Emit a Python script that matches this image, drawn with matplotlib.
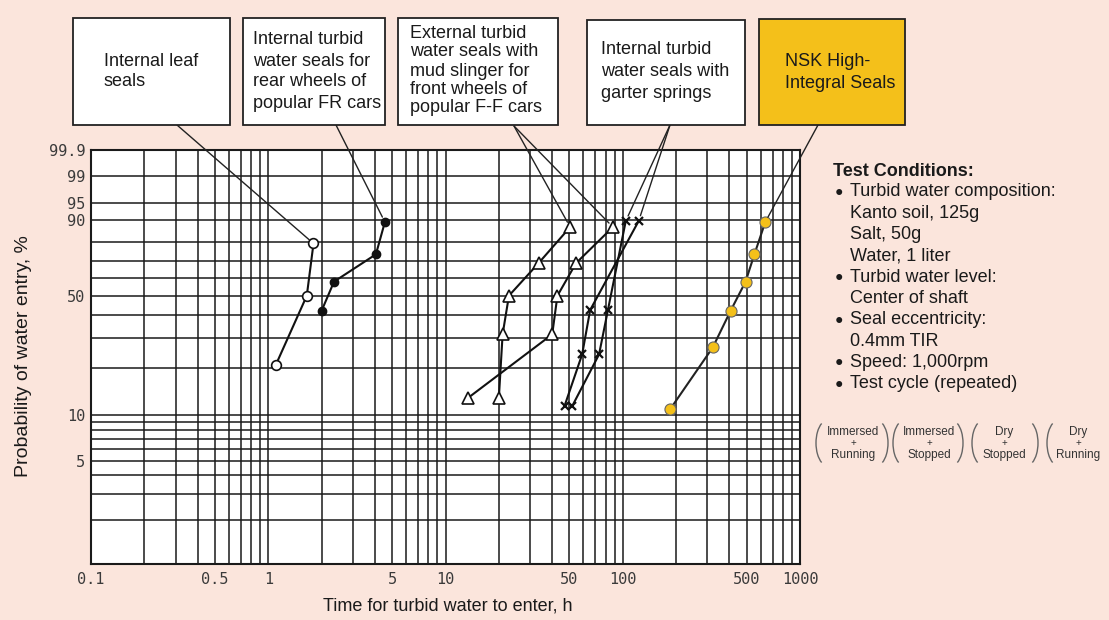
import numpy as np
import matplotlib
matplotlib.use("Agg")
import matplotlib.pyplot as plt
from matplotlib.patches import Rectangle, Arc
from matplotlib.ticker import NullLocator

W, H = 1109, 620
BG = "#fbe5dc"
YELLOW = "#f4c01a"

# ---------- data (time h, cumulative probability %) ----------
leaf_t = [1.1, 1.65, 1.8]
leaf_p = [20.6, 50.0, 79.4]

fr_t = [2.0, 2.35, 4.05, 4.55]
fr_p = [42.1, 57.9, 73.6, 89.1]

ff_a_t = [20.0, 21.0, 22.8, 33.5, 50.5]
ff_b_t = [13.4, 40.0, 42.8, 54.5, 88.0]
ff_p = [12.9, 31.4, 50.0, 68.6, 87.1]

garter_c_t = [47.0, 59.0, 65.5, 123.0]
garter_d_t = [52.0, 73.5, 82.5, 104.0]
garter_p = [11.5, 24.0, 42.5, 89.5]

nsk_t = [185, 322, 406, 493, 553, 637]
nsk_p = [10.9, 26.4, 42.1, 57.9, 73.6, 89.1]

xtick_vals = [0.1, 0.5, 1, 5, 10, 50, 100, 500, 1000]
xtick_labels = ["0.1", "0.5", "1", "5", "10", "50", "100", "500", "1000"]
ytick_vals = [5, 10, 50, 90, 95, 99, 99.9]
ytick_labels = ["5", "10", "50", "90", "95", "99", "99.9"]

xgrid = [k * 10.0 ** e for e in range(-1, 3) for k in range(1, 10)] + [1000]
ygrid = list(range(1, 11)) + [20, 30, 40, 50, 60, 70, 80, 90, 95, 99, 99.9]


def fwd(p):
    p = np.clip(np.asarray(p, dtype=float), 1e-6, 100 - 1e-9)
    return np.log(-np.log(1 - p / 100.0))


def inv(w):
    return 100.0 * (1 - np.exp(-np.exp(np.asarray(w, dtype=float))))


def fp(x, y):
    # pixel position (from top-left) -> figure fraction
    return (x / W, 1 - y / H)


plt.rcParams["font.family"] = ["Liberation Sans", "DejaVu Sans"]

fig = plt.figure(figsize=(W / 100, H / 100), dpi=100, facecolor=BG)
ax = fig.add_axes([91 / W, 1 - 564 / H, 709 / W, 414 / H])
ax.set_facecolor("white")
ax.set_xscale("log")
ax.set_yscale("function", functions=(fwd, inv))
ax.set_xlim(0.1, 1000)
ax.set_ylim(1, 99.9)

ax.vlines(xgrid, 1, 99.9, color="#1a1a1a", lw=1.1, zorder=1)
ax.hlines(ygrid, 0.1, 1000, color="#1a1a1a", lw=1.1, zorder=1)

for s in ax.spines.values():
    s.set_linewidth(1.5)
    s.set_color("#1a1a1a")

ax.xaxis.set_minor_locator(NullLocator())
ax.yaxis.set_minor_locator(NullLocator())
ax.set_xticks(xtick_vals)
ax.set_xticklabels(xtick_labels)
ax.set_yticks(ytick_vals)
ax.set_yticklabels(ytick_labels)
ax.tick_params(length=0, labelsize=11, labelcolor="#3a3a3a")
ax.tick_params(axis="x", pad=6)
ax.tick_params(axis="y", pad=4)
for lab in ax.get_xticklabels() + ax.get_yticklabels():
    lab.set_family("DejaVu Sans Mono")

lw = 1.5
ax.plot(leaf_t, leaf_p, color="#111", lw=lw, marker="o", ms=7,
        mfc="white", mec="#111", mew=1.2, zorder=3)
ax.plot(fr_t, fr_p, color="#111", lw=lw, marker="o", ms=6,
        mfc="#111", mec="#111", zorder=3)
for t in (ff_a_t, ff_b_t):
    ax.plot(t, ff_p, color="#111", lw=lw, marker="^", ms=8,
            mfc="white", mec="#111", mew=1.2, zorder=3)
for t in (garter_c_t, garter_d_t):
    ax.plot(t, garter_p, color="#111", lw=lw, marker="x", ms=6,
            mec="#111", mew=1.6, zorder=3)
ax.plot(nsk_t, nsk_p, color="#222", lw=lw, marker="o", ms=8,
        mfc=YELLOW, mec="#666", mew=0.8, zorder=3)

fig.text(*fp(448, 606), "Time for turbid water to enter, h", fontsize=13,
         ha="center", va="center", color="#1a1a1a")
fig.text(*fp(24, 356), "Probability of water entry, %", fontsize=14,
         ha="center", va="center", rotation=90, color="#1a1a1a")

# ---------- label boxes ----------
boxes = [
    (73, 18, 230, 125, "white", 104, [61, 82], ["Internal leaf", "seals"]),
    (243, 18, 385, 125, "white", 253, [39, 61, 82, 103],
     ["Internal turbid", "water seals for", "rear wheels of", "popular FR cars"]),
    (398, 18, 558, 125, "white", 410, [33, 52, 71, 89, 107],
     ["External turbid", "water seals with", "mud slinger for",
      "front wheels of", "popular F-F cars"]),
    (587, 20, 745, 125, "white", 601, [49, 71, 93],
     ["Internal turbid", "water seals with", "garter springs"]),
    (759, 19, 905, 125, YELLOW, 785, [62, 83], ["NSK High-", "Integral Seals"]),
]
for x0, y0, x1, y1, fc, tx, tys, lines in boxes:
    fig.add_artist(Rectangle(fp(x0, y1), (x1 - x0) / W, (y1 - y0) / H,
                             transform=fig.transFigure, facecolor=fc,
                             edgecolor="#222", lw=1.3))
    for ty, line in zip(tys, lines):
        fig.text(*fp(tx, ty), line, fontsize=13, va="center", ha="left",
                 color="#1a1a1a")

# ---------- leader lines ----------
leaders = [
    ((177, 125), (leaf_t[-1], leaf_p[-1])),
    ((336, 125), (fr_t[-1], fr_p[-1])),
    ((514, 126), (ff_a_t[-1], ff_p[-1])),
    ((514, 126), (ff_b_t[-1], ff_p[-1])),
    ((670, 125), (garter_c_t[-1], garter_p[-1])),
    ((670, 125), (garter_d_t[-1], garter_p[-1])),
    ((818, 125), (nsk_t[-1], nsk_p[-1])),
]
for (px, py), xy in leaders:
    ax.annotate("", xy=xy, xytext=fp(px, py), textcoords="figure fraction",
                annotation_clip=False,
                arrowprops=dict(arrowstyle="-", color="#222", lw=1.0,
                                shrinkA=0, shrinkB=4))

# ---------- test conditions ----------
fig.text(*fp(833, 171), "Test Conditions:", fontsize=13, fontweight="bold",
         va="center", color="#1a1a1a")
cond = [
    (True, "Turbid water composition:"),
    (False, "Kanto soil, 125g"),
    (False, "Salt, 50g"),
    (False, "Water, 1 liter"),
    (True, "Turbid water level:"),
    (False, "Center of shaft"),
    (True, "Seal eccentricity:"),
    (False, "0.4mm TIR"),
    (True, "Speed: 1,000rpm"),
    (True, "Test cycle (repeated)"),
]
for i, (bullet, line) in enumerate(cond):
    y = 192 + i * 21.3
    if bullet:
        fig.text(*fp(835, y), "\u25CF", fontsize=10, va="center", color="#1a1a1a")
    fig.text(*fp(850, y), line, fontsize=13, va="center", color="#1a1a1a")

cycle_top = ["Immersed", "Immersed", "Dry", "Dry"]
cycle_bot = ["Running", "Stopped", "Stopped", "Running"]
cycle_x = [853, 929, 1004, 1078]
for cx, top, bot in zip(cycle_x, cycle_top, cycle_bot):
    fig.text(*fp(cx, 432), top, fontsize=8.5, ha="center", va="center", color="#333")
    fig.text(*fp(cx, 443), "+", fontsize=7, ha="center", va="center", color="#333")
    fig.text(*fp(cx, 455), bot, fontsize=8.5, ha="center", va="center", color="#333")

# brackets drawn as thin arcs (apex x in pixels, side)
for apex, side in [(816, "l"), (888, "r"), (893, "l"), (963, "r"),
                   (972, "l"), (1038, "r"), (1047, "l")]:
    half = 12
    cx = apex + half if side == "l" else apex - half
    t1, t2 = (108, 252) if side == "l" else (-72, 72)
    fig.add_artist(Arc((cx / 100, (H - 443) / 100), 2 * half / 100, 46 / 100,
                       theta1=t1, theta2=t2, transform=fig.dpi_scale_trans,
                       color="#666", lw=1.0))

fig.savefig("out.png", dpi=100, facecolor=BG)
